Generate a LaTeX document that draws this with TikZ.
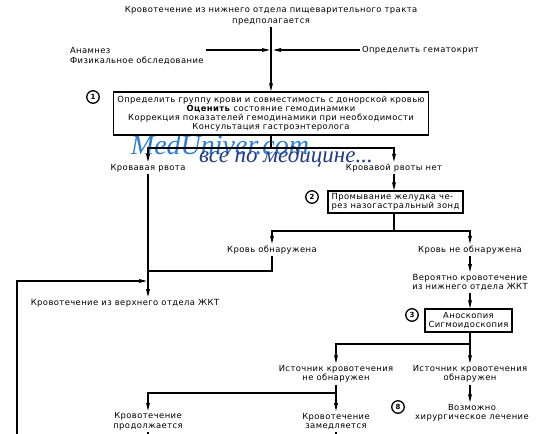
\documentclass[tikz,border=0pt]{standalone}
\usepackage{fontspec}
\setmainfont{DejaVu Sans}[LetterSpace=5]
\newfontfamily\wmfont{Liberation Serif}
\usetikzlibrary{arrows.meta}
\definecolor{wmblue}{RGB}{45,125,215}
\definecolor{wmdark}{RGB}{35,60,135}
\begin{document}
\begin{tikzpicture}[x=1pt,y=-1pt,
  line width=1.1pt,
  txt/.style={font=\fontsize{8.4}{9.4}\selectfont, inner sep=1.5pt, align=center},
  box/.style={draw, line width=1.4pt, inner sep=2pt, font=\fontsize{8.4}{9.2}\selectfont, align=center},
  num/.style={circle, draw, line width=1.3pt, minimum size=12.5pt, inner sep=0pt, font=\fontsize{7}{7}\selectfont\bfseries},
  arr/.style={-{Triangle[length=8pt,width=3.6pt]}},
  wma/.style={font=\wmfont\itshape\fontsize{28}{28}\selectfont, text=wmblue, inner sep=0pt},
  wmb/.style={font=\wmfont\itshape\fontsize{23}{23}\selectfont, text=wmdark, inner sep=0pt}
]
\fill[white] (0,0) rectangle (550,434);
\useasboundingbox (0,0) rectangle (550,434);

% watermark
\node[wma] (wm1) at (220,145) {MedUniver.com};
\node[wmb] (wm2) at (286,157) {все по медицине...};

% top
\node[txt, font=\fontsize{8.4}{10.5}\selectfont] (title) at (271,16) {Кровотечение из нижнего отдела пищеварительного тракта\\предполагается};
\node[txt, align=left, anchor=west] (anam) at (68,56) {Анамнез\\Физикальное обследование};
\node[txt, anchor=west] (hct) at (360,50) {Определить гематокрит};
\coordinate (jl) at (270,50);
\coordinate (jr) at (273,50);

\node[box, minimum width=315pt, minimum height=43pt] (b1) at (271,113.5) {Определить группу крови и совместимость с донорской кровью\\\textbf{Оценить} состояние гемодинамики\\Коррекция показателей гемодинамики при необходимости\\Консультация гастроэнтеролога};
\node[num] (c1) at (93,97) {1};

\draw[arr] (title) -- (b1);
\draw[arr] (anam.east |- hct.west) -- (jl);
\draw[arr] (hct.west) -- (jr);

% first branch
\coordinate (br1) at (271,148);
\node[txt] (vr) at (148,168) {Кровавая рвота};
\node[txt] (nvr) at (394,168) {Кровавой рвоты нет};
\draw (b1) -- (br1);
\draw[arr] (br1) -| (vr);
\draw[arr] (br1) -| (nvr);

\node[txt] (ugi) at (125,303) {Кровотечение из верхнего отдела ЖКТ};
\draw[arr] (vr) -- (vr |- ugi.north);

% box 2
\node[box, align=left, minimum width=135pt, minimum height=22pt] (b2) at (395.5,202) {Промывание желудка че-\\рез назогастральный зонд};
\node[num] (c2) at (312,197) {2};
\draw[arr] (nvr) -- (nvr |- b2.north);
\coordinate (br2) at (394,231);
\draw (b2.south -| nvr) -- (br2);
\node[txt] (kb) at (272,250) {Кровь обнаружена};
\node[txt] (knb) at (470,250) {Кровь не обнаружена};
\draw[arr] (br2) -| (kb);
\draw[arr] (br2) -| (knb);
\coordinate (jn) at (148,271);
\draw (kb) |- (jn);
\coordinate (lb) at (17,434);
\coordinate (jl2) at (147,281);
\draw[arr] (lb) |- (jl2);

% lower right
\node[txt] (lik) at (470,282.5) {Вероятно кровотечение\\из нижнего отдела ЖКТ};
\draw[arr] (knb) -- (lik);
\node[box, minimum width=87pt, minimum height=23pt] (b3) at (468.5,320.5) {Аноскопия\\Сигмоидоскопия};
\node[num] (c3) at (412,315) {3};
\draw[arr] (lik) -- (lik |- b3.north);
\coordinate (br3) at (470,344);
\draw (b3.south -| lik) -- (br3);
\node[txt] (nf) at (336,374) {Источник кровотечения\\не обнаружен};
\node[txt] (f) at (470,374) {Источник кровотечения\\обнаружен};
\draw[arr] (br3) -| (nf);
\draw[arr] (br3) -- (f);
\coordinate (br4) at (336,393);
\draw (nf) -- (br4);
\node[txt] (cont) at (148,421.5) {Кровотечение\\продолжается};
\node[txt] (slow) at (336,421.5) {Кровотечение\\замедляется};
\draw[arr] (br4) -| (cont);
\draw[arr] (br4) -- (slow);
\node[txt] (surg) at (472,413) {Возможно\\хирургическое лечение};
\node[num] (c8) at (398,407) {8};
\draw[arr] (f) -- (f |- surg.north);
\coordinate (cb1) at (148,434);
\coordinate (cb2) at (336,434);
\draw (cont) -- (cb1);
\draw (slow) -- (cb2);
\end{tikzpicture}
\end{document}
